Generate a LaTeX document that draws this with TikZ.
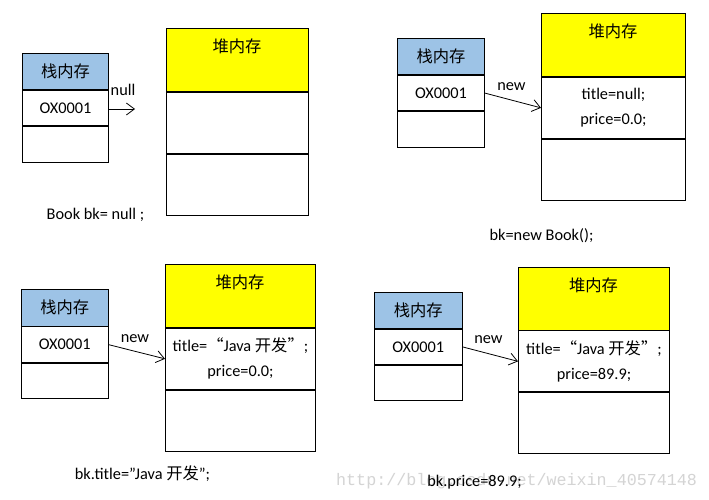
\documentclass[tikz,border=0pt]{standalone}
\usepackage{fontspec}
\setmainfont{Carlito}
\newfontfamily\cjk{Noto Sans CJK SC}
\newfontfamily\wmfont{Liberation Mono}
\usetikzlibrary{arrows.meta}
\definecolor{stackblue}{HTML}{9DC3E6}
\definecolor{heapyellow}{HTML}{FFFF00}
\definecolor{wmgray}{HTML}{D4D4D4}
\begin{document}
\begin{tikzpicture}[x=1pt,y=-1pt,
  font=\fontsize{16.3}{25}\selectfont,
  cell/.style={draw=black, line width=0.9pt, rectangle, inner sep=0pt, anchor=north west, align=center},
  shead/.style={cell, fill=stackblue},
  hhead/.style={cell, fill=heapyellow},
  ptr/.style={line width=0.8pt, -{Straight Barb[length=8pt,width=12pt,line width=0.8pt]}},
  lbl/.style={inner sep=0pt},
  caption/.style={inner sep=0pt},
  wm/.style={inner sep=0pt, text=wmgray, font=\wmfont\fontsize{16.7}{20}\selectfont}]
\useasboundingbox (0,0) rectangle (709,500);
\fill[white] (0,0) rectangle (709,500);

% watermark
\node[wm, anchor=west] (wmark) at (336,481) {http://blog.csdn.net/weixin\_40574148};

% ===== Panel 1 =====
\node[shead, minimum width=86pt, minimum height=36pt] (s1h) at (22,53) {{\cjk 栈内存}};
\node[cell, minimum width=86pt, minimum height=35.5pt] (s1a) at (s1h.south west) {OX0001};
\node[cell, minimum width=86pt, minimum height=35.5pt] (s1b) at (s1a.south west) {};
\node[hhead, minimum width=142pt, minimum height=63pt] (h1h) at (166,28) {};
\node[lbl] (h1t) at (237,46.5) {{\cjk 堆内存}};
\node[cell, minimum width=142pt, minimum height=61pt] (h1a) at (h1h.south west) {};
\node[cell, minimum width=142pt, minimum height=61pt] (h1b) at (h1a.south west) {};
\coordinate (e1) at (135,109);
\draw[ptr] (s1a.east |- e1) -- (e1);
\node[lbl] (n1) at (123,90) {null};
\node[caption] (c1) at (95.5,215) {Book bk= null ;};

% ===== Panel 2 =====
\node[shead, minimum width=87pt, minimum height=36pt] (s2h) at (397,38) {{\cjk 栈内存}};
\node[cell, minimum width=87pt, minimum height=35.5pt] (s2a) at (s2h.south west) {OX0001};
\node[cell, minimum width=87pt, minimum height=35.5pt] (s2b) at (s2a.south west) {};
\node[hhead, minimum width=144pt, minimum height=63pt] (h2h) at (541,13) {};
\node[lbl] (h2t) at (613,31.5) {{\cjk 堆内存}};
\node[cell, minimum width=144pt, minimum height=61pt] (h2a) at (h2h.south west) {title=null;\\price=0.0;};
\node[cell, minimum width=144pt, minimum height=61pt] (h2b) at (h2a.south west) {};
\draw[ptr] (s2a.east) -- (h2a.west);
\node[lbl] (n2) at (511.5,87) {new};
\node[caption] (c2) at (541.5,235.5) {bk=new Book();};

% ===== Panel 3 =====
\node[shead, minimum width=86.5pt, minimum height=36.5pt] (s3h) at (21,289) {{\cjk 栈内存}};
\node[cell, minimum width=86.5pt, minimum height=35.5pt] (s3a) at (s3h.south west) {OX0001};
\node[cell, minimum width=86.5pt, minimum height=35.5pt] (s3b) at (s3a.south west) {};
\node[hhead, minimum width=150pt, minimum height=63pt] (h3h) at (165,264) {};
\node[lbl] (h3t) at (240,282) {{\cjk 堆内存}};
\node[cell, minimum width=150pt, minimum height=61pt] (h3a) at (h3h.south west) {title={\cjk “}Java {\cjk 开发”};\\price=0.0;};
\node[cell, minimum width=150pt, minimum height=61pt] (h3b) at (h3a.south west) {};
\draw[ptr] (s3a.east) -- (h3a.west);
\node[lbl] (n3) at (135,339) {new};
\node[caption] (c3) at (142.5,473.5) {bk.title="Java {\cjk 开发}";};

% ===== Panel 4 =====
\node[shead, minimum width=87.5pt, minimum height=36pt] (s4h) at (374,292) {{\cjk 栈内存}};
\node[cell, minimum width=87.5pt, minimum height=35pt] (s4a) at (s4h.south west) {OX0001};
\node[cell, minimum width=87.5pt, minimum height=35.5pt] (s4b) at (s4a.south west) {};
\node[hhead, minimum width=151pt, minimum height=62.5pt] (h4h) at (518,267) {};
\node[lbl] (h4t) at (593.5,285) {{\cjk 堆内存}};
\node[cell, minimum width=151pt, minimum height=61pt] (h4a) at (h4h.south west) {title={\cjk “}Java {\cjk 开发”};\\price=89.9;};
\node[cell, minimum width=151pt, minimum height=61pt] (h4b) at (h4a.south west) {};
\draw[ptr] (s4a.east) -- (h4a.west);
\node[lbl] (n4) at (488.5,340) {new};
\node[caption] (c4) at (474.5,482) {bk.price=89.9;};
\end{tikzpicture}
\end{document}
